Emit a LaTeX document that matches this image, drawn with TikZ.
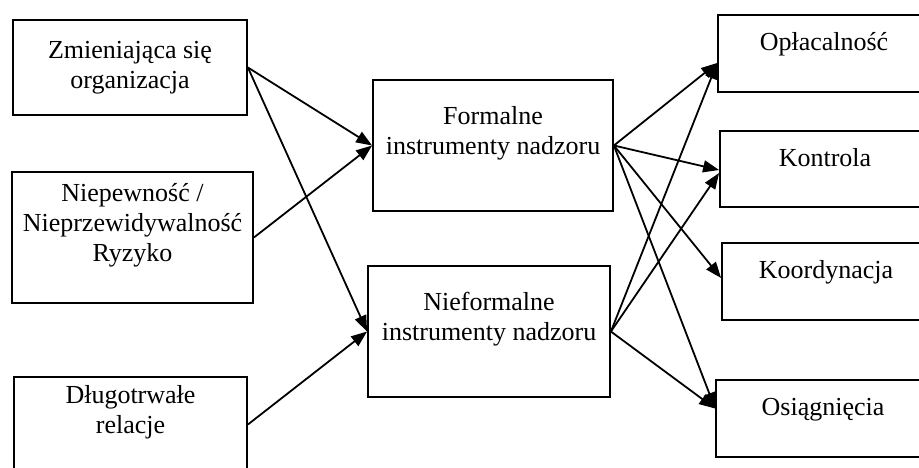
\documentclass[tikz,border=0pt]{standalone}
\usepackage{fontspec}
\setmainfont{Liberation Serif}
\usetikzlibrary{arrows.meta}

\begin{document}
\begin{tikzpicture}[x=1pt, y=-1pt,
            >={Triangle[length=16pt,width=12pt]},  % Pointes de flèche pleines
            boite/.style={draw, line width=1.8pt, align=center, inner sep=0pt,
                font=\fontsize{26}{30}\selectfont},
            cible/.style={boite, text height=8pt, text depth=14pt},
            fleche/.style={->, line width=1.8pt}
        ]
        \useasboundingbox (0,0) rectangle (919,467);

        % (1) Les trois facteurs à gauche
        \node[boite, minimum width=234pt, minimum height=95pt] (zmiana) at (130,67.5)
            {Zmieniająca się\\organizacja};
        \node[boite, minimum width=241pt, minimum height=131pt] (niepewnosc) at (132.5,237.5)
            {Niepewność /\\Nieprzewidywalność\\Ryzyko\\\mbox{}};
        \node[boite, minimum width=233pt, minimum height=95pt] (relacje) at (130.5,424.5)
            {Długotrwałe\\relacje\\\mbox{}};

        % (2) Les instruments de contrôle au milieu
        \node[boite, minimum width=240pt, minimum height=131pt] (formalne) at (493,145.5)
            {Formalne\\instrumenty nadzoru\\\mbox{}};
        \node[boite, minimum width=242pt, minimum height=131pt] (nieformalne) at (489,331.5)
            {Nieformalne\\instrumenty nadzoru\\\mbox{}};

        % (3) Les effets à droite (coupés par le bord)
        \node[cible, minimum width=212pt, minimum height=77pt] (oplacalnosc) at (824,53.5) {Opłacalność};
        \node[cible, minimum width=210pt, minimum height=76pt] (kontrola) at (825,169) {Kontrola};
        \node[cible, minimum width=208pt, minimum height=77pt] (koordynacja) at (826,281.5) {Koordynacja};
        \node[cible, minimum width=214pt, minimum height=77pt] (osiagniecia) at (823,418.5) {Osiągnięcia};

        % (4) Flèches vers les instruments
        \draw[fleche] (zmiana.east) -- (formalne.west);
        \draw[fleche] (zmiana.east) -- (nieformalne.west);
        \draw[fleche] (niepewnosc.east) -- (formalne.west);
        \draw[fleche] (relacje.east) -- (nieformalne.west);

        % (5) Flèches vers les effets
        \foreach \cel/\dy in {oplacalnosc/-9.5, kontrola/-1, koordynacja/3.5, osiagniecia/10}
            \draw[fleche] (formalne.east) -- ([yshift=\dy pt]\cel.west);
        \foreach \cel/\dy in {oplacalnosc/-9.5, kontrola/-4, osiagniecia/10}
            \draw[fleche] (nieformalne.east) -- ([yshift=\dy pt]\cel.west);

\end{tikzpicture}
\end{document}
